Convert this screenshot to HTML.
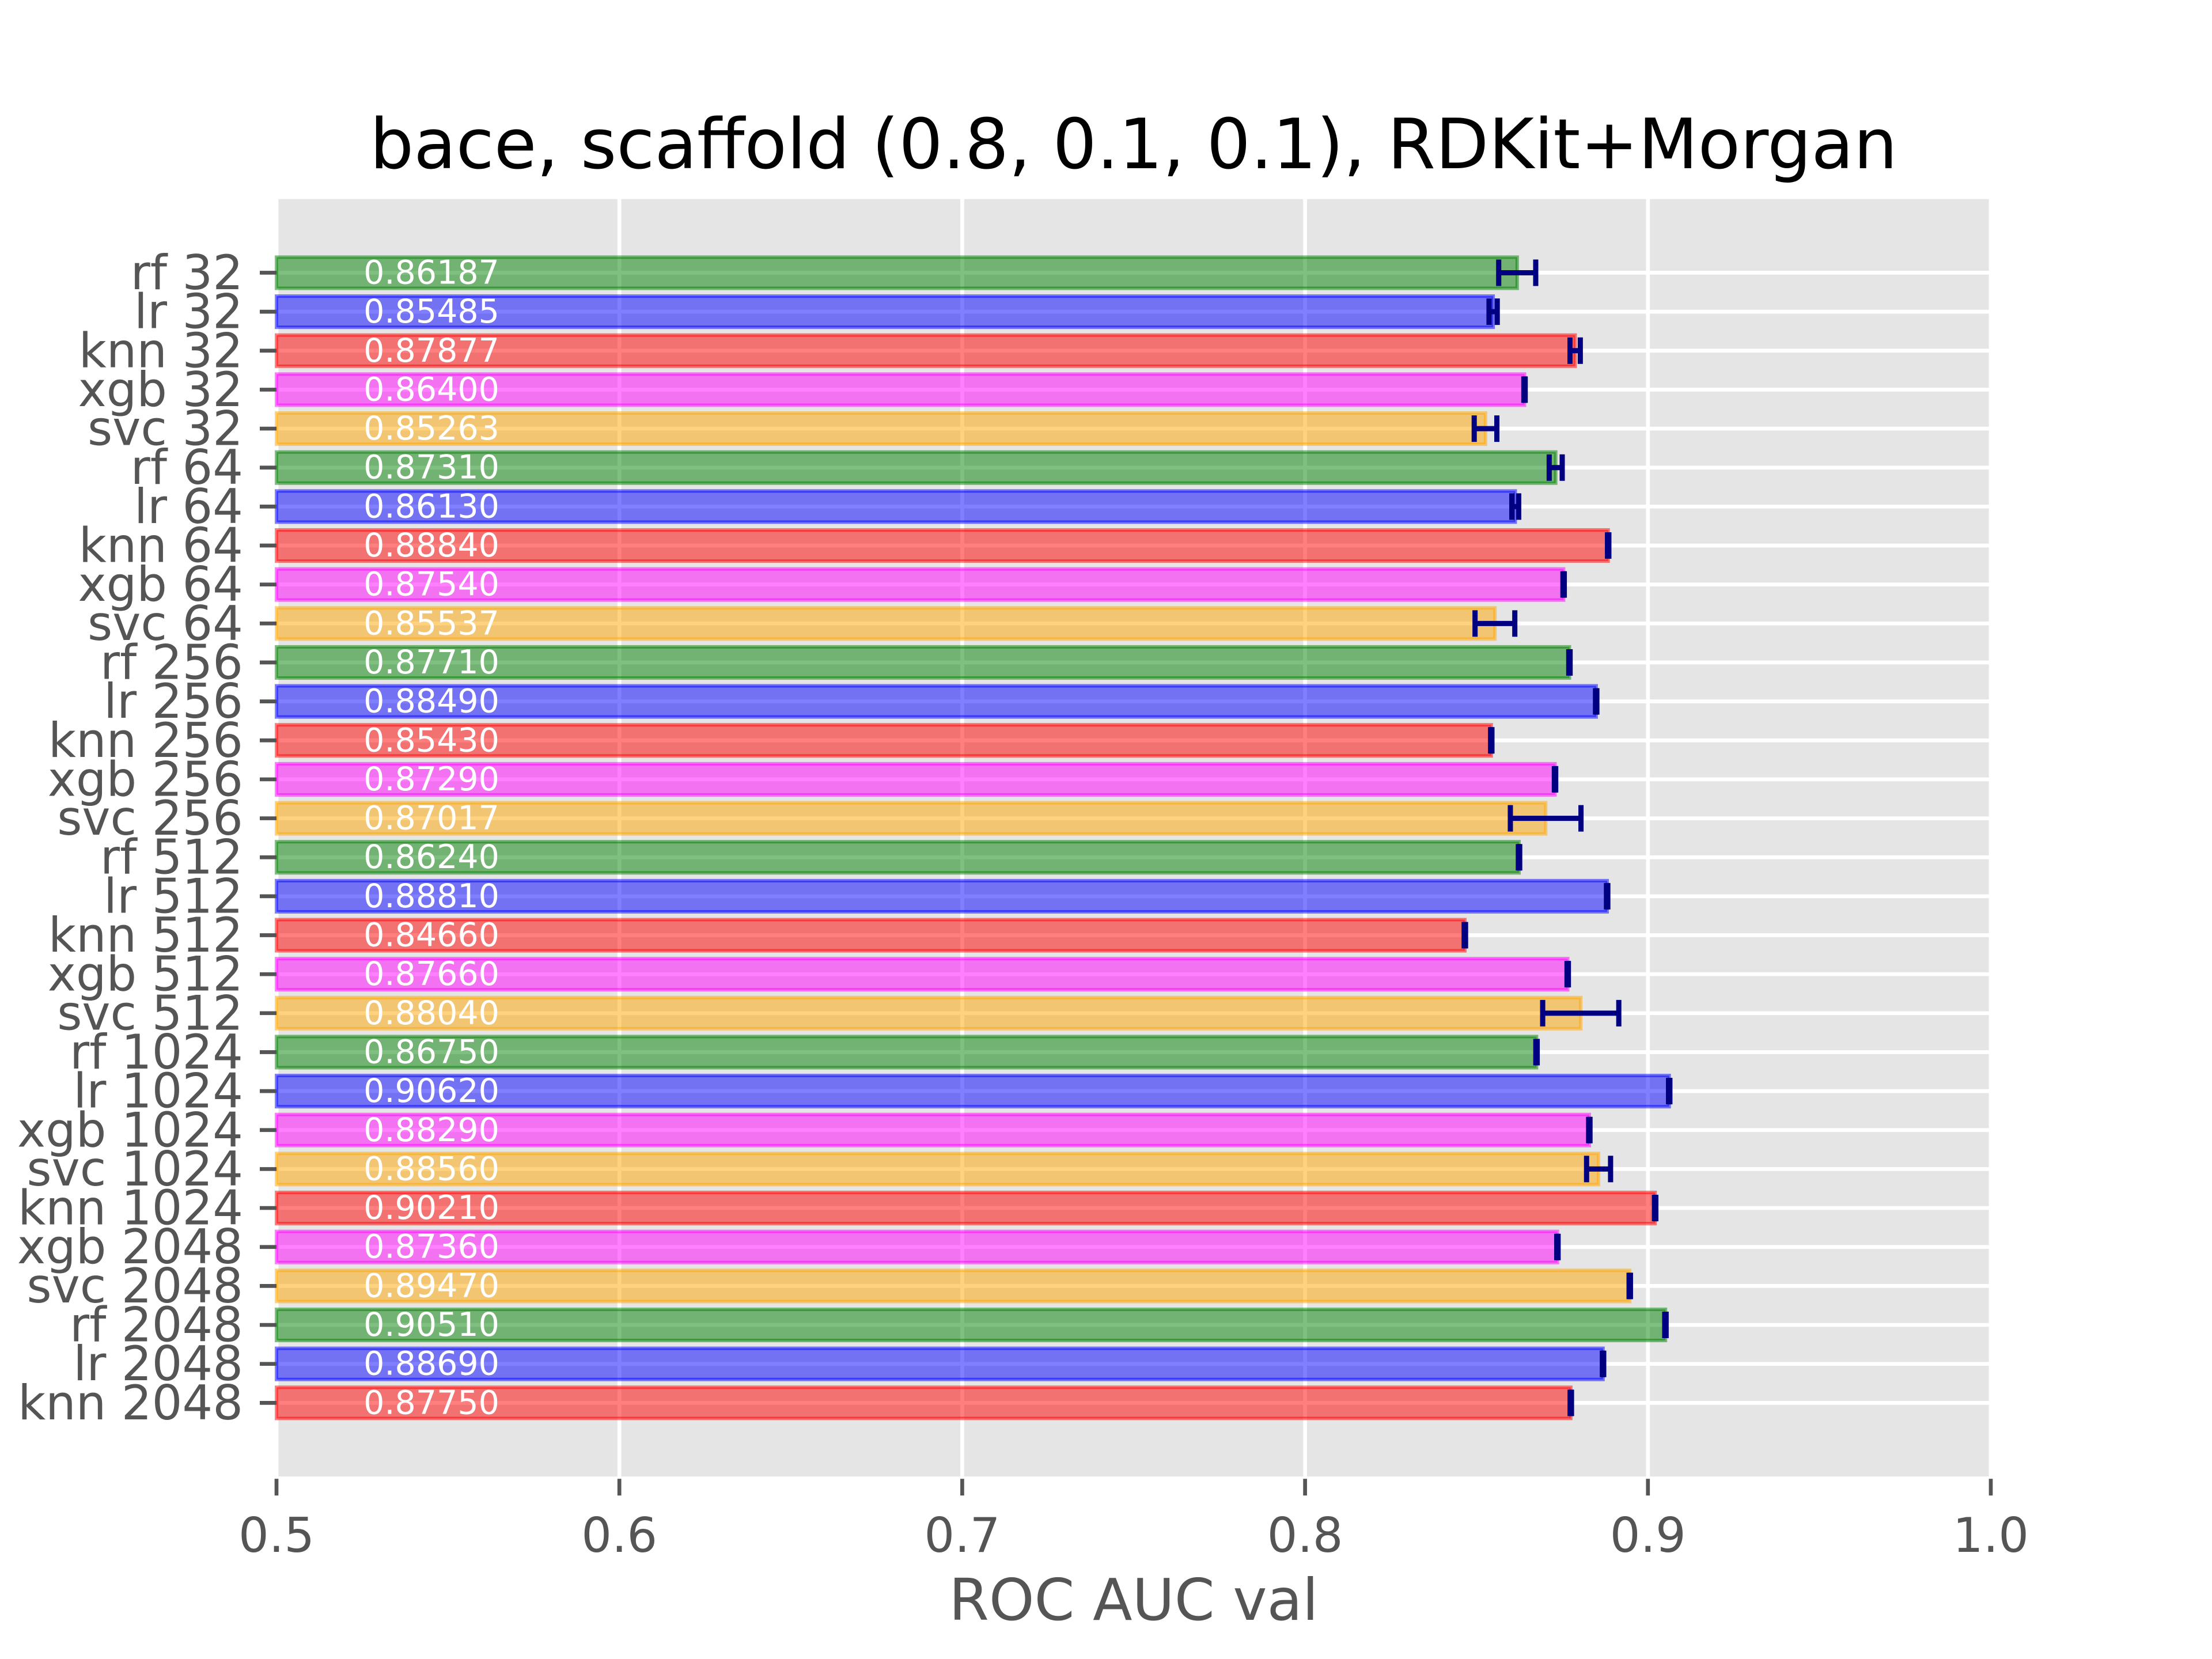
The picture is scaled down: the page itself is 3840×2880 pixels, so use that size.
<!DOCTYPE html>
<html><head><meta charset="utf-8"><style>html,body{margin:0;padding:0;background:#fff}svg{display:block}</style></head>
<body>
<svg id="chart" width="3840" height="2880" viewBox="0 0 3840 2880" xmlns="http://www.w3.org/2000/svg" font-family="'DejaVu Sans','Liberation Sans',sans-serif">
<rect width="3840" height="2880" fill="#fff"/>
<g id="plot"></g>
</svg>
<script>
const categories = ["rf 32","lr 32","knn 32","xgb 32","svc 32","rf 64","lr 64","knn 64","xgb 64","svc 64","rf 256","lr 256","knn 256","xgb 256","svc 256","rf 512","lr 512","knn 512","xgb 512","svc 512","rf 1024","lr 1024","xgb 1024","svc 1024","knn 1024","xgb 2048","svc 2048","rf 2048","lr 2048","knn 2048"];
const values = [0.86187,0.85485,0.87877,0.86400,0.85263,0.87310,0.86130,0.88840,0.87540,0.85537,0.87710,0.88490,0.85430,0.87290,0.87017,0.86240,0.88810,0.84660,0.87660,0.88040,0.86750,0.90620,0.88290,0.88560,0.90210,0.87360,0.89470,0.90510,0.88690,0.87750];
const errors = [0.0054,0.0012,0.0015,0.0002,0.0033,0.0019,0.001,0.0002,0.0002,0.0058,0.0002,0.0002,0.0002,0.0002,0.0103,0.0002,0.0002,0.0002,0.0002,0.0111,0.0002,0.0002,0.0002,0.0035,0.0002,0.0002,0.0002,0.0002,0.0002,0.0002];
const labels = ["0.86187","0.85485","0.87877","0.86400","0.85263","0.87310","0.86130","0.88840","0.87540","0.85537","0.87710","0.88490","0.85430","0.87290","0.87017","0.86240","0.88810","0.84660","0.87660","0.88040","0.86750","0.90620","0.88290","0.88560","0.90210","0.87360","0.89470","0.90510","0.88690","0.87750"];
const xTicks = [0.5,0.6,0.7,0.8,0.9,1.0];
const xTickLabels = ["0.5","0.6","0.7","0.8","0.9","1.0"];
const colorMap = {rf:"#008000",lr:"#0000ff",knn:"#ff0000",xgb:"#ff00ff",svc:"#ffa500"};

const L=480,R=3456,T=345.6,B=2563.2;
const xMin=0.5,xMax=1.0;
const n=categories.length;
const yMin=-0.4-0.05*(n-1+0.8), yMax=n-1+0.4+0.05*(n-1+0.8);
const x=v=>L+(v-xMin)/(xMax-xMin)*(R-L);
const y=i=>T+(i-yMin)/(yMax-yMin)*(B-T);
const NS="http://www.w3.org/2000/svg";
const g=document.getElementById('plot');
function mk(tag,attrs,parent){const e=document.createElementNS(NS,tag);for(const k in attrs)e.setAttribute(k,attrs[k]);(parent||g).appendChild(e);return e;}

let e=mk('rect',{x:L,y:T,width:R-L,height:B-T,fill:'#e5e5e5'});


xTicks.forEach((t,i)=>{
  let l=mk('line',{x1:x(t),x2:x(t),y1:T,y2:B,stroke:'#fff','stroke-width':6.7});
  
  
});
categories.forEach((c,i)=>{
  let l=mk('line',{x1:L,x2:R,y1:y(i),y2:y(i),stroke:'#fff','stroke-width':6.7});
  
  
});
const bh=0.8*(y(1)-y(0));
categories.forEach((c,i)=>{
  const col=colorMap[c.split(' ')[0]];
  let r=mk('rect',{x:x(xMin),y:y(i)-bh/2,width:x(values[i])-x(xMin),height:bh,fill:col,'fill-opacity':0.5,stroke:col,'stroke-opacity':0.5,'stroke-width':6});
  
  
});
categories.forEach((c,i)=>{
  const cy=y(i), ch=bh*0.85;
  const x1=x(values[i]-errors[i]), x2=x(values[i]+errors[i]);
  let eg=mk('g',{stroke:'#000080','stroke-width':9});
  
  
  mk('line',{x1:x1,x2:x2,y1:cy,y2:cy},eg);
  mk('line',{x1:x1,x2:x1,y1:cy-ch/2,y2:cy+ch/2},eg);
  mk('line',{x1:x2,x2:x2,y1:cy-ch/2,y2:cy+ch/2},eg);
  let t=mk('text',{x:x(0.5254),y:cy,fill:'#fff','font-size':57,'dominant-baseline':'central'});
  t.textContent=labels[i];
  
  
  let tk=mk('line',{x1:L-29,x2:L,y1:cy,y2:cy,stroke:'#555','stroke-width':6.7});
  
  
  let tl=mk('text',{x:L-58,y:cy,fill:'#555','font-size':83,'text-anchor':'end','dominant-baseline':'central'});
  tl.textContent=c;
  
  
});
xTicks.forEach((t,i)=>{
  let tk=mk('line',{x1:x(t),x2:x(t),y1:B+4,y2:B+33,stroke:'#555','stroke-width':6.7});
  
  
  let tl=mk('text',{x:x(t),y:2694,fill:'#555','font-size':83,'text-anchor':'middle'});
  tl.textContent=xTickLabels[i];
  
  
});
let xl=mk('text',{x:(L+R)/2,y:2812,fill:'#555','font-size':100,'text-anchor':'middle'});
xl.textContent='ROC AUC val';


let ti=mk('text',{x:(L+R)/2,y:292,fill:'#000','font-size':120,'text-anchor':'middle'});
ti.textContent='bace, scaffold (0.8, 0.1, 0.1), RDKit+Morgan';


</script>
</body></html>
